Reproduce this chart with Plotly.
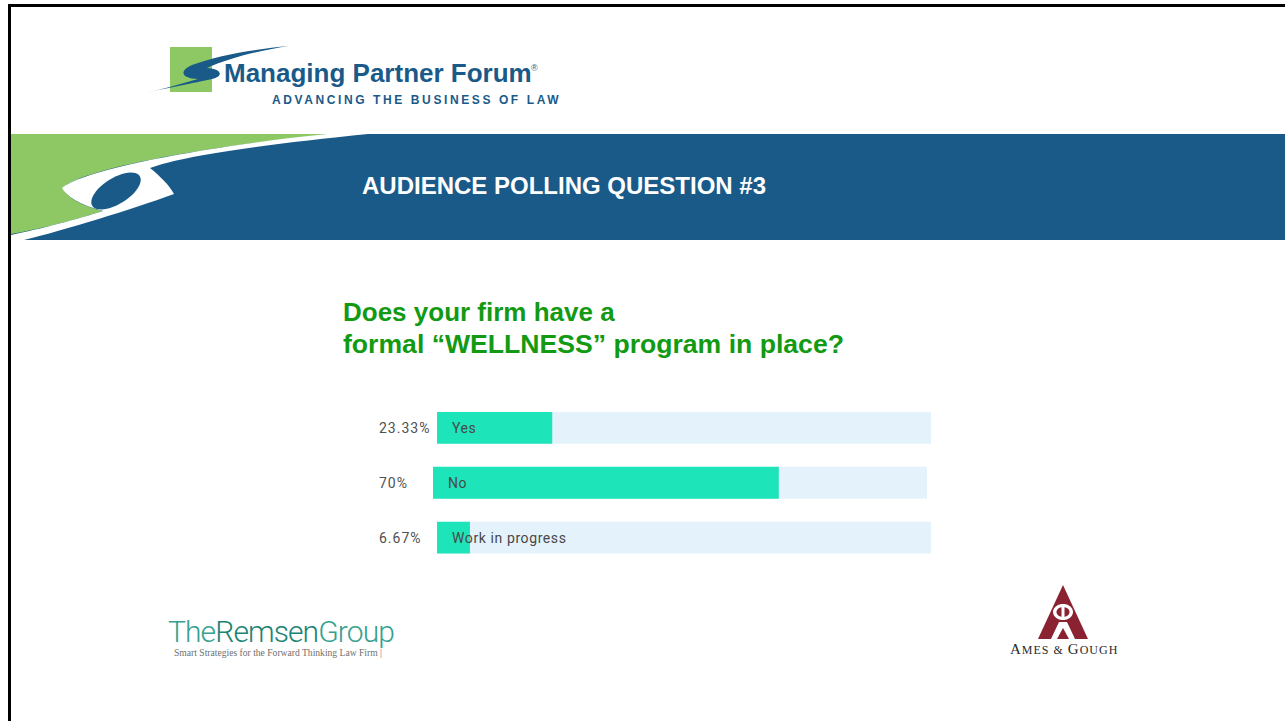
import numpy as np
import plotly.graph_objects as go

# ---- poll data -------------------------------------------------------------
categories = ["Yes", "No", "Work in progress"]
shares = [23.33, 70, 6.67]
share_labels = ["23.33%", "70%", "6.67%"]
track_full = [100, 100, 100]

# ---- slide geometry helpers (pixel -> paper) ---------------------------------
W, H = 1285, 721


def fx(x):
    return x / W


def fy(y):
    return 1 - y / H


def path(s):
    out, i = [], 0
    for t in s.replace(",", " ").split():
        if t.isalpha():
            out.append(t)
            i = 0
        else:
            v = float(t)
            out.append(f"{fx(v) if i % 2 == 0 else fy(v):.5f}")
            i += 1
    return " ".join(out)


def ellipse(cx, cy, rx, ry, ang=0.0, n=48):
    a = np.radians(ang)
    pts = []
    for t in np.linspace(0, 2 * np.pi, n, endpoint=False):
        x = rx * np.cos(t)
        y = ry * np.sin(t)
        pts.append((cx + x * np.cos(a) - y * np.sin(a), cy + x * np.sin(a) + y * np.cos(a)))
    s = "M %.2f %.2f " % pts[0] + " ".join("L %.2f %.2f" % p for p in pts[1:]) + " Z"
    return path(s)


BLUE = "#1a5a89"
LGREEN = "#8dc865"
TITLE_GREEN = "#129a12"
BAR_FILL = "#1de5b9"
BAR_TRACK = "#e4f2fb"
LABEL = "#484848"

shapes = []


def rect(x0, y0, x1, y1, color):
    shapes.append(dict(type="rect", xref="paper", yref="paper", x0=fx(x0), x1=fx(x1),
                       y0=fy(y1), y1=fy(y0), fillcolor=color, line_width=0, layer="below"))


def poly(s, color):
    shapes.append(dict(type="path", xref="paper", yref="paper", path=path(s),
                       fillcolor=color, line_width=0, layer="below"))


def ell(cx, cy, rx, ry, ang, color):
    shapes.append(dict(type="path", xref="paper", yref="paper", path=ellipse(cx, cy, rx, ry, ang),
                       fillcolor=color, line_width=0, layer="below"))


# frame
rect(8, 4, W, 7, "#000000")
rect(8, 4, 11, H, "#000000")

# header banner with swoosh
rect(11, 134, W, 240, BLUE)
poly("M 11 134 L 330 134 C 200 148 85 168 63 188 C 66 197 82 206 103 211 "
     "C 75 220 40 229 11 234 Z", LGREEN)
poly("M 327 134 L 368 134 C 270 144 185 155 150 168 C 160 176 170 186 174 194 "
     "C 130 210 65 230 24 240 L 11 240 L 11 235 C 40 229 78 219 103 211 "
     "C 80 205 66 196 62 188 C 82 170 200 147 327 134 Z", "#ffffff")
ell(116, 191, 28, 13, -32, BLUE)

# top logo
rect(170, 47, 212, 92, LGREEN)
poly("M 137 95 C 165 88 195 83 212 79 C 224 76 222 69 207 68 "
     "C 228 58 262 50 289 46 C 256 49 218 55 192 65 "
     "C 178 71 182 79 198 79 C 178 85 158 90 137 95 Z", BLUE)

# Ames & Gough mark
poly("M 1063 585 L 1088 639 L 1038 639 Z", "#8b2232")
ell(1063, 612, 10, 8, 0, "#ffffff")
ell(1063, 612, 6.5, 5, 0, "#8b2232")
rect(1061.5, 604, 1064.5, 617, "#ffffff")
poly("M 1051 639 L 1059 622 L 1067 622 L 1075 639 L 1069 639 L 1063 628 L 1057 639 Z", "#ffffff")

annotations = []


def text(x, y, s, size, color, family="Liberation Sans, Arial", xanchor="left", weight=None):
    font = dict(size=size, color=color, family=family)
    if weight is not None:
        font["weight"] = weight
    annotations.append(dict(xref="paper", yref="paper", x=fx(x), y=fy(y), text=s, showarrow=False,
                            xanchor=xanchor, yanchor="middle", font=font))


text(222, 73, "<b>Managing Partner Forum</b>", 26, BLUE)
text(529, 68, "®", 9, BLUE)
text(270, 100, '<span style="letter-spacing:2.6px"><b>ADVANCING THE BUSINESS OF LAW</b></span>', 12, BLUE)
text(360, 185, "<b>AUDIENCE POLLING QUESTION #3</b>", 24, "#ffffff")
text(341, 312, "<b>Does your firm have a</b>", 26, TITLE_GREEN)
text(341, 344, "<b>formal “WELLNESS” program in place?</b>", 26.6, TITLE_GREEN)

# footer logos
text(166, 631, '<span style="letter-spacing:-0.9px;color:#35a190">The</span>'
     '<span style="letter-spacing:-0.9px;color:#1b8473">Remsen</span>'
     '<span style="letter-spacing:-0.9px;color:#35a190">Group</span>',
     30, "#35a190", family="Roboto", weight=300)
text(172, 652, "Smart Strategies for the Forward Thinking Law Firm |", 9.6, "#6f6f6f",
     family="Liberation Serif")
text(1064, 649, '<span style="letter-spacing:1px">A</span>'
     '<span style="font-size:12px;letter-spacing:1px">MES &amp; </span>'
     '<span style="letter-spacing:1px">G</span>'
     '<span style="font-size:12px;letter-spacing:1px">OUGH</span>',
     15, "#2a2a2a", family="Liberation Serif", xanchor="center")

# ---- bars -------------------------------------------------------------------
fig = go.Figure()
row_axes = ["", "2", ""]
for cat, val, track, lab, ax in zip(categories, shares, track_full, share_labels, row_axes):
    xa, ya = "x" + ax, "y" + ax
    fig.add_trace(go.Bar(x=[track], y=[cat], orientation="h", xaxis=xa, yaxis=ya,
                         marker=dict(color=BAR_TRACK, line_width=0), width=0.58,
                         hoverinfo="skip", showlegend=False))
    fig.add_trace(go.Bar(x=[val], y=[cat], orientation="h", xaxis=xa, yaxis=ya,
                         marker=dict(color=BAR_FILL, line_width=0), width=0.58,
                         hoverinfo="skip", showlegend=False))
    annotations.append(dict(xref=xa, yref=ya, x=0, y=cat,
                            text=f'<span style="letter-spacing:0.6px">{cat}</span>', showarrow=False,
                            xanchor="left", yanchor="middle", xshift=13,
                            font=dict(size=14, color=LABEL, family="Roboto")))
    annotations.append(dict(xref="paper", yref=ya, x=fx(377), y=cat,
                            text=f'<span style="letter-spacing:1px">{lab}</span>', showarrow=False,
                            xanchor="left", yanchor="middle",
                            font=dict(size=14, color="#505050", family="Roboto")))

y_dom = [fy(565), fy(400.5)]
axis_common = dict(visible=False, fixedrange=True)
fig.update_layout(
    width=W, height=H,
    margin=dict(l=0, r=0, t=0, b=0),
    paper_bgcolor="#ffffff", plot_bgcolor="rgba(0,0,0,0)",
    barmode="overlay",
    xaxis=dict(domain=[fx(437), fx(931)], range=[0, 100], anchor="y", **axis_common),
    xaxis2=dict(domain=[fx(433), fx(927)], range=[0, 100], anchor="y2", **axis_common),
    yaxis=dict(domain=y_dom, type="category", categoryorder="array", categoryarray=categories,
               range=[2.5, -0.5], anchor="x", **axis_common),
    yaxis2=dict(domain=y_dom, type="category", categoryorder="array", categoryarray=categories,
                range=[2.5, -0.5], anchor="x2", **axis_common),
    shapes=shapes,
    annotations=annotations,
)

fig.write_html("out.html", config={"displayModeBar": False})
